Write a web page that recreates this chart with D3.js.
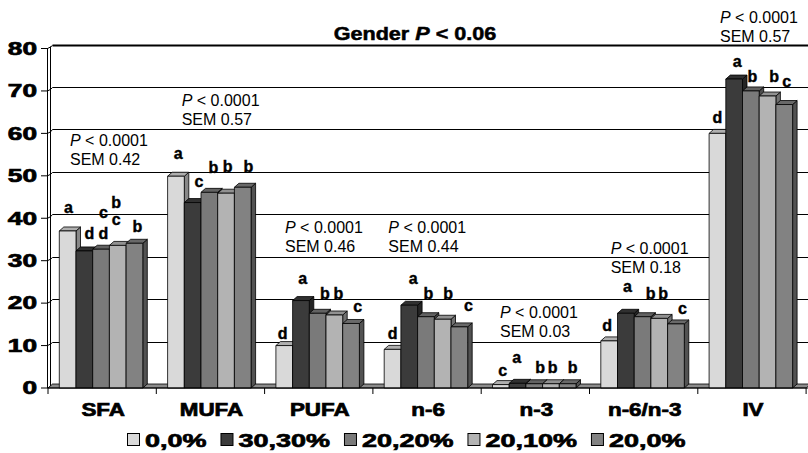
<!DOCTYPE html>
<html>
<head>
<meta charset="utf-8">
<script src="https://cdn.jsdelivr.net/npm/d3@7"></script>
<style>
  html, body { margin: 0; padding: 0; background: #fff; }
  svg { display: block; }
  text { white-space: pre; }
</style>
</head>
<body>
<svg id="chart" width="808" height="453"></svg>
<script>
// ---- data ----
const categories = ["SFA", "MUFA", "PUFA", "n-6", "n-3", "n-6/n-3", "IV"];
const series = ["0,0%", "30,30%", "20,20%", "20,10%", "20,0%"];
// one row per fatty-acid group, one value per diet
const values = [
  [37.0, 32.3, 32.7, 33.6, 34.1],
  [49.9, 43.7, 46.1, 45.9, 47.3],
  [10.0, 20.6, 17.6, 17.2, 15.2],
  [9.1, 19.5, 16.8, 16.2, 14.4],
  [0.8, 1.1, 1.0, 1.0, 1.0],
  [11.1, 17.6, 16.8, 16.4, 15.1],
  [60.0, 72.8, 70.0, 68.8, 66.8]
];
// significance letters (stacked top-to-bottom when more than one)
const sigLetters = [
  ["a", "d", "cd", "bc", "b"],
  ["a", "c", "b", "b", "b"],
  ["d", "a", "b", "b", "c"],
  ["d", "a", "b", "b", "c"],
  ["c", "a", "b", "b", "b"],
  ["d", "a", "b", "b", "c"],
  ["d", "a", "b", "b", "c"]
];
const pValues = ["< 0.0001", "< 0.0001", "< 0.0001", "< 0.0001", "< 0.0001", "< 0.0001", "< 0.0001"];
const semValues = ["0.42", "0.57", "0.46", "0.44", "0.03", "0.18", "0.57"];
const yTicks = [0, 10, 20, 30, 40, 50, 60, 70, 80];
const genderP = "< 0.06";

// ---- layout ----
const W = 808, H = 453;
const X0 = 48, BAND = 108.3;
const DX = 4.5, DY = -4;           // depth offset of the 3-D extrusion
const BAR_W = 16.7, BAR_OFF = 11.3;
const FONT = "'Liberation Sans', Arial, Helvetica, sans-serif";
const fills = ["#d9d9d9", "#3b3b3b", "#7a7a7a", "#b3b3b3", "#828282"];

// letter placement relative to the top-centre of each bar front (px)
const letterNudge = [
  [[0.7, -22.4], [5, -17.4], [2.3, -15.7], [-1.5, -24.3], [2.9, -17.3]],
  [[2.3, -21], [6.3, -19.6], [4, -25.6], [1.7, -26.6], [5.6, -20.6]],
  [[-1.5, -12.4], [1.7, -20.7], [7.3, -20], [4, -21.7], [6.6, -15.6]],
  [[0, -16], [4, -25.7], [2.4, -23.4], [5.6, -26], [9, -19.7]],
  [[1.9, -13.3], [-0.9, -24.3], [5.8, -17], [1.8, -17], [5, -17]],
  [[-1.9, -15.7], [1.5, -25.2], [8.2, -23.4], [4, -25], [6.4, -14]],
  [[0, -16.6], [3, -16.7], [1.5, -14.7], [6.5, -19.7], [2.5, -21.6]]
];
// P / SEM note: left edge offset from the group start, centre of first line
const noteLayout = [[22, 140], [25.4, 100], [20.4, 227], [15.4, 227], [18.8, 312.5], [21.2, 248.5], [22.2, 16.7]];

const x0 = d3.scaleBand().domain(categories).range([X0, X0 + BAND * categories.length]);
const x1 = d3.scaleBand().domain(series).range([BAR_OFF, BAR_OFF + BAR_W * series.length]);
const y = d3.scaleLinear().domain([0, 80]).range([388, 48.5]);
const yB = v => y(v) + DY;
const crisp = v => Math.round(v) + 0.5;

const svg = d3.select("#chart");
const xEnd = x0.range()[1];
const wallL = X0 + DX;

// back wall gridlines
svg.append("g").selectAll("line").data(yTicks).join("line")
  .attr("x1", wallL).attr("x2", W + 20)
  .attr("y1", d => crisp(yB(d))).attr("y2", d => crisp(yB(d)))
  .attr("stroke", "#000").attr("stroke-width", d => d === 80 ? 2 : 1);

// left side wall
const lw = svg.append("g").attr("stroke", "#000").attr("fill", "none");
lw.append("line").attr("x1", X0 - 0.5).attr("x2", X0 - 0.5).attr("y1", y(0)).attr("y2", y(80));
lw.append("line").attr("x1", wallL - 2).attr("x2", wallL - 2).attr("y1", yB(0) + 2).attr("y2", yB(80) + 2);
lw.selectAll("path.seg").data(yTicks).join("path").attr("class", "seg")
  .attr("d", d => `M${X0 - 0.5},${y(d)} L${wallL - 2},${y(d) - 1.5} L${wallL},${crisp(yB(d))}`);

// floor
svg.append("path")
  .attr("d", `M${X0},${y(0)} L${xEnd},${y(0)} L${xEnd + DX},${yB(0)} L${wallL},${yB(0)} Z`)
  .attr("fill", "#8c8c8c").attr("stroke", "#000").attr("stroke-width", 0.8);

// bars
const groups = svg.append("g").selectAll("g").data(categories).join("g");
groups.each(function (cat, ci) {
  const g = d3.select(this);
  series.forEach((s, si) => {
    const v = values[ci][si];
    const xl = x0(cat) + x1(s), w = x1.bandwidth();
    const yt = y(v), yb = y(0);
    const base = d3.color(fills[si]);
    const bar = g.append("g").attr("stroke", "#000").attr("stroke-width", 0.8).attr("stroke-linejoin", "round");
    // side face
    bar.append("path")
      .attr("d", `M${xl + w},${yt} L${xl + w + DX},${yt + DY} L${xl + w + DX},${yb + DY} L${xl + w},${yb} Z`)
      .attr("fill", base.darker(1.3));
    // top face
    bar.append("path")
      .attr("d", `M${xl},${yt} L${xl + DX},${yt + DY} L${xl + w + DX},${yt + DY} L${xl + w},${yt} Z`)
      .attr("fill", base.darker(0.6));
    // front face
    bar.append("rect").attr("x", xl).attr("y", yt).attr("width", w).attr("height", yb - yt)
      .attr("fill", base);
  });
});

// front bottom edge and category ticks
svg.append("line").attr("x1", X0).attr("x2", W + 20).attr("y1", y(0)).attr("y2", y(0))
  .attr("stroke", "#000").attr("stroke-width", 1);
const tickXs = categories.map(c => x0(c)).concat([xEnd]);
svg.append("g").selectAll("line").data(tickXs).join("line")
  .attr("x1", d => d).attr("x2", d => d).attr("y1", y(0)).attr("y2", y(0) + 6)
  .attr("stroke", "#000");
// value-axis ticks
svg.append("g").selectAll("line").data(yTicks).join("line")
  .attr("x1", X0 - 7).attr("x2", X0).attr("y1", d => y(d)).attr("y2", d => y(d))
  .attr("stroke", "#000");

// wide heavy label helper
function wideText(parent, x, yBase, str, size, sx, anchor) {
  return parent.append("g").attr("transform", `translate(${x},${yBase}) scale(${sx},1)`)
    .append("text").attr("text-anchor", anchor)
    .attr("font-family", FONT).attr("font-weight", "bold").attr("font-size", size)
    .attr("fill", "#000").attr("stroke", "#000").attr("stroke-width", 0.7)
    .text(str);
}

// value-axis labels
yTicks.forEach(v => wideText(svg, 37, y(v) + 6.3, String(v), 17.5, 1.5, "end"));

// category labels
categories.forEach(c => wideText(svg, x0(c) + x0.bandwidth() / 2 + 1, 415.5, c, 17.5, 1.28, "middle"));

// significance letters
categories.forEach((cat, ci) => {
  series.forEach((s, si) => {
    const cx = x0(cat) + x1(s) + x1.bandwidth() / 2 + letterNudge[ci][si][0];
    const cy = y(values[ci][si]) + letterNudge[ci][si][1];
    const letters = sigLetters[ci][si].split("").reverse();
    letters.forEach((L, k) => {
      const tall = (L === "b" || L === "d");
      svg.append("text")
        .attr("x", cx).attr("y", cy - k * 19.3 + (tall ? 5.8 : 4.2))
        .attr("text-anchor", "middle")
        .attr("font-family", FONT).attr("font-weight", "bold").attr("font-size", 16)
        .attr("stroke", "#000").attr("stroke-width", 0.4)
        .text(L);
    });
  });
});

// P / SEM notes
categories.forEach((cat, ci) => {
  const [ox, cy] = noteLayout[ci];
  const t1 = svg.append("text").attr("x", x0(cat) + ox).attr("y", cy + 5.8)
    .attr("font-family", FONT).attr("font-size", 16);
  t1.append("tspan").attr("font-style", "italic").text("P");
  t1.append("tspan").text(" " + pValues[ci]);
  svg.append("text").attr("x", x0(cat) + ox).attr("y", cy + 19 + 5.8)
    .attr("font-family", FONT).attr("font-size", 16)
    .text("SEM " + semValues[ci]);
});

// heading
const title = svg.append("g").attr("transform", `translate(415,40.2) scale(1.2,1)`)
  .append("text").attr("text-anchor", "middle")
  .attr("font-family", FONT).attr("font-weight", "bold").attr("font-size", 18)
  .attr("stroke", "#000").attr("stroke-width", 0.5);
title.append("tspan").text("Gender ");
title.append("tspan").attr("font-style", "italic").text("P");
title.append("tspan").text(" " + genderP);

// legend
const legend = svg.append("g");
let lx = 127;
series.forEach((s, si) => {
  legend.append("rect").attr("x", lx + 0.5).attr("y", 433.5).attr("width", 12).attr("height", 12)
    .attr("fill", fills[si]).attr("stroke", "#000").attr("stroke-width", 1);
  const t = wideText(legend, lx + 18, 446.5, s, 19, 1.42, "start");
  lx += 18 + t.node().getComputedTextLength() * 1.42 + 14;
});
</script>
</body>
</html>
